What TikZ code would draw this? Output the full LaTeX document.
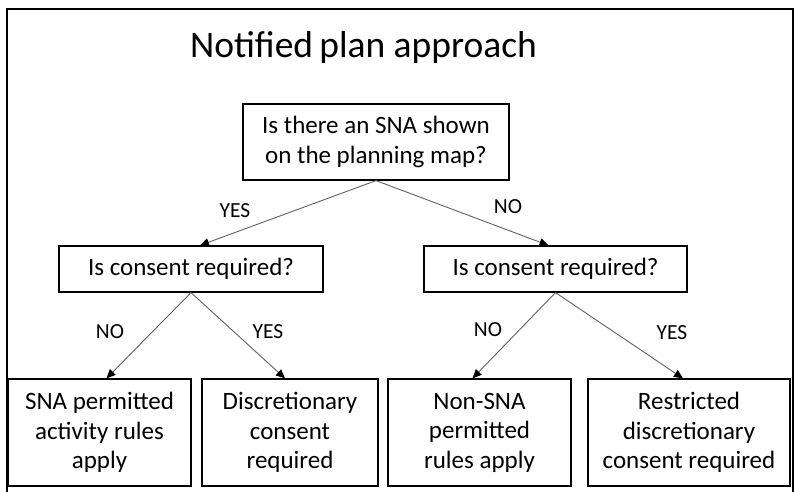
\documentclass[tikz,border=0pt]{standalone}
\usepackage{fontspec}
\setmainfont{Carlito}
\usetikzlibrary{arrows.meta}

\begin{document}
\begin{tikzpicture}[x=1pt,y=1pt,
  box/.style={draw,line width=1.2pt,align=center,inner sep=0pt,
    font=\fontsize{25}{29.5}\selectfont},
  link/.style={draw=black!62,line width=0.9pt,-{Triangle[length=9pt,width=8pt,color=black]}},
  answer/.style={font=\fontsize{21.5}{24}\selectfont}]
\useasboundingbox (0,0) rectangle (795,-492);
%frame%
\draw[line width=1.5pt] (7,-492) -- (7,-9) -- (793,-9) -- (793,-492);
\node[anchor=base,font=\fontsize{37.5}{42}\selectfont] (title) at (363.5,-58) {Notified\,plan approach};
%questions%
\node[box,minimum width=266pt,minimum height=76pt] (sna) at (376,-142)
  {Is there an SNA shown\\on the planning map?};
\node[box,minimum width=264pt,minimum height=46pt] (askleft) at (191,-269) {Is consent required?};
\node[box,minimum width=263pt,minimum height=46pt] (askright) at (555.5,-269) {Is consent required?};
%outcomes%
\node[box,minimum width=183pt,minimum height=107pt] (snarules) at (99.5,-432.5)
  {SNA permitted\\activity rules\\apply};
\node[box,minimum width=176pt,minimum height=107pt] (discr) at (290,-432.5)
  {Discretionary\\consent\\required};
\node[box,minimum width=183pt,minimum height=107pt] (nonsna) at (479.5,-432.5)
  {Non-SNA\\permitted\\rules apply};
\node[box,minimum width=202pt,minimum height=107pt] (restr) at (689,-432.5)
  {Restricted\\discretionary\\consent required};
%links%
\draw[link] (sna.south) -- ([xshift=9pt]askleft.north);
\draw[link] (sna.south) -- ([xshift=-7pt]askright.north);
\draw[link] (askleft.south) -- ([xshift=7pt]snarules.north);
\draw[link] (askleft.south) -- ([xshift=-5pt]discr.north);
\draw[link] (askright.south) -- ([xshift=-7pt]nonsna.north);
\draw[link] (askright.south) -- ([xshift=-6pt]restr.north);
%answers%
\node[answer] (yes1) at (235,-211) {YES};
\node[answer] (no1) at (508,-207) {NO};
\node[answer] (no2) at (110,-332) {NO};
\node[answer] (yes2) at (268,-332) {YES};
\node[answer] (no3) at (488,-330) {NO};
\node[answer] (yes3) at (672,-333) {YES};
\end{tikzpicture}
\end{document}
